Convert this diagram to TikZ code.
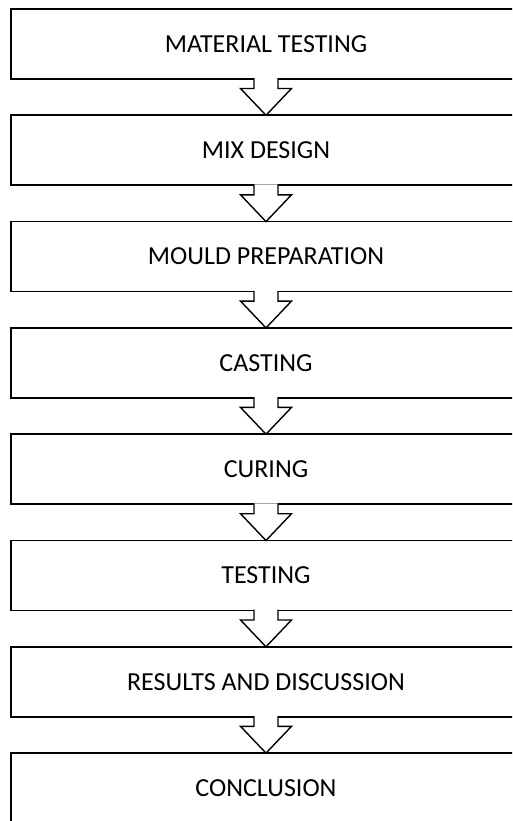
\documentclass[tikz,border=0pt]{standalone}
\usepackage{fontspec}
\setmainfont{Carlito}
\usetikzlibrary{positioning,calc}

\tikzset{
	stage/.style={draw, line width=1.6pt, fill=white, minimum width=510pt, minimum height=70pt,
		inner sep=0pt, outer sep=0pt, font=\fontsize{26}{31}\selectfont},
	flowarrow/.style={draw, fill=white, line width=1.4pt, line join=miter}
}

\begin{document}
\begin{tikzpicture}[x=1pt, y=-1pt, node distance=36.3pt]
	\useasboundingbox (0,0) rectangle (512,821);
	\clip (0,0) rectangle (512,821);
	
	\node[stage] (material) at (266,44) {MATERIAL TESTING};
	\node[stage, below=of material] (mix) {MIX DESIGN};
	\node[stage, below=of mix] (mould) {MOULD PREPARATION};
	\node[stage, below=of mould] (casting) {CASTING};
	\node[stage, below=of casting] (curing) {CURING};
	\node[stage, below=of curing] (testing) {TESTING};
	\node[stage, below=of testing] (results) {RESULTS AND DISCUSSION};
	\node[stage, below=of results] (conclusion) {CONCLUSION};
	
	% hollow arrows between the stages
	\foreach \a/\b in {material/mix, mix/mould, mould/casting, casting/curing,
		curing/testing, testing/results, results/conclusion}
	\filldraw[flowarrow] ($(\a.south)+(-12,-0.8)$) -- ++(0,10.3) -- ++(-13.5,0) -- (\b.north)
		-- ($(\a.south)+(25.5,9.5)$) -- ++(-13.5,0) -- ++(0,-10.3);
	
\end{tikzpicture}
\end{document}
